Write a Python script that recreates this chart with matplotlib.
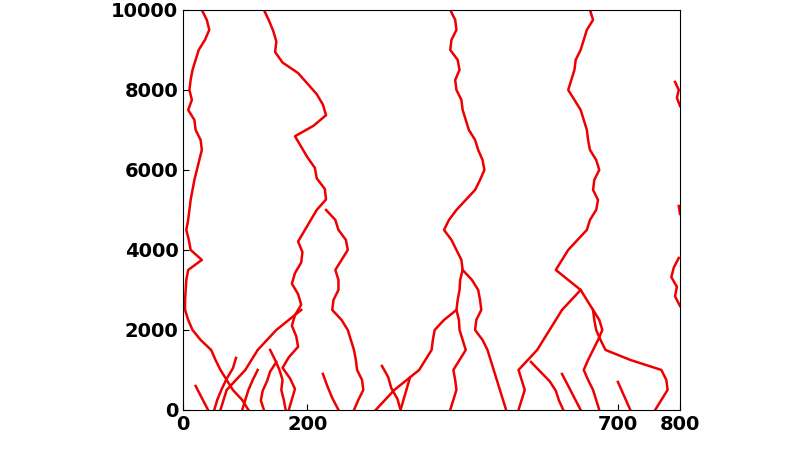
import numpy as np
import matplotlib
matplotlib.use("Agg")
import matplotlib.pyplot as plt

# each path: (y_start, y_end, x values evenly spaced in y)
path_a = (10000, 0, [30,38,42,35,25,20,15,12,10,14,8,18,20,28,30,26,22,18,15,12,10,8,5,9,12,30,8,5,4,3,3,8,15,28,45,52,60,70,80,95,105])
path_b = (10000, 0, [130,138,145,150,148,160,185,200,215,225,230,210,180,190,200,212,215,228,230,215,205,195,185,192,190,180,175,185,190,180,175,182,185,170,160,172,180,175,170])
path_b2 = (5000, 0, [230,245,250,262,265,255,245,250,250,242,240,255,265,270,275,278,280,288,290,282,275])
path_b3 = (2500, 0, [190,170,150,135,120,110,100,85,70,65,60])
path_c = (10000, 0, [430,438,440,432,430,442,445,438,440,448,450,455,460,470,475,482,485,478,470,455,440,428,420,432,440,448,450,446,445,442,440,444,445,450,455,445,435,438,440,435,430])
path_c2 = (3500, 0, [450,465,475,478,480,472,470,482,490,495,500,505,510,515,520])
path_c3 = (2500, 0, [440,420,405,402,400,390,380,360,340,325,310])
path_d = (10000, 0, [655,660,650,645,640,632,630,625,620,630,640,645,650,652,655,665,670,662,660,668,665,655,650,635,620,610,600,620,640,650,660,662,665,672,680,720,770,778,780,770,760])
path_d2 = (3000, 0, [640,625,610,600,590,580,570,555,540,545,550,545,540])
path_d3 = (2500, 0, [660,670,675,668,660,652,645,652,660,665,670])
path_e1 = (8200, 7600, [792,798,795,800])
path_e2 = (3800, 2600, [798,790,786,795,792,800])
path_e3 = (5100, 4900, [798,800])
short_paths = [
    (1300, 0, [85,80,70,62,55,50]),
    (1000, 0, [120,112,105,100,95]),
    (1200, 0, [150,140,135,128,125,130]),
    (1500, 0, [140,148,155,160,158,162,165]),
    (900, 0, [225,232,240,250]),
    (1100, 0, [320,330,335,345,350]),
    (800, 0, [365,360,355,350]),
    (1200, 0, [560,575,590,600,605,612]),
    (900, 0, [610,620,630,640]),
    (700, 0, [700,710,720]),
    (600, 0, [20,30,40]),
]

paths = [path_a, path_b, path_b2, path_b3, path_c, path_c2, path_c3,
         path_d, path_d2, path_d3, path_e1, path_e2, path_e3] + short_paths

fig = plt.figure(figsize=(8, 4.5), dpi=100)
ax = fig.add_axes([0.229, 0.089, 0.621, 0.889])
for y0, y1, xs in paths:
    ys = np.linspace(y0, y1, len(xs))
    ax.plot(xs, ys, color="#ee0000", lw=1.8)
ax.set_xlim(0, 800)
ax.set_ylim(0, 10000)
ax.set_xticks([0, 200, 700, 800])
ax.set_yticks(range(0, 10001, 2000))
ax.tick_params(direction="in", length=4, labelsize=14)
for lab in ax.get_xticklabels() + ax.get_yticklabels():
    lab.set_fontweight("bold")
fig.savefig("out.png")
